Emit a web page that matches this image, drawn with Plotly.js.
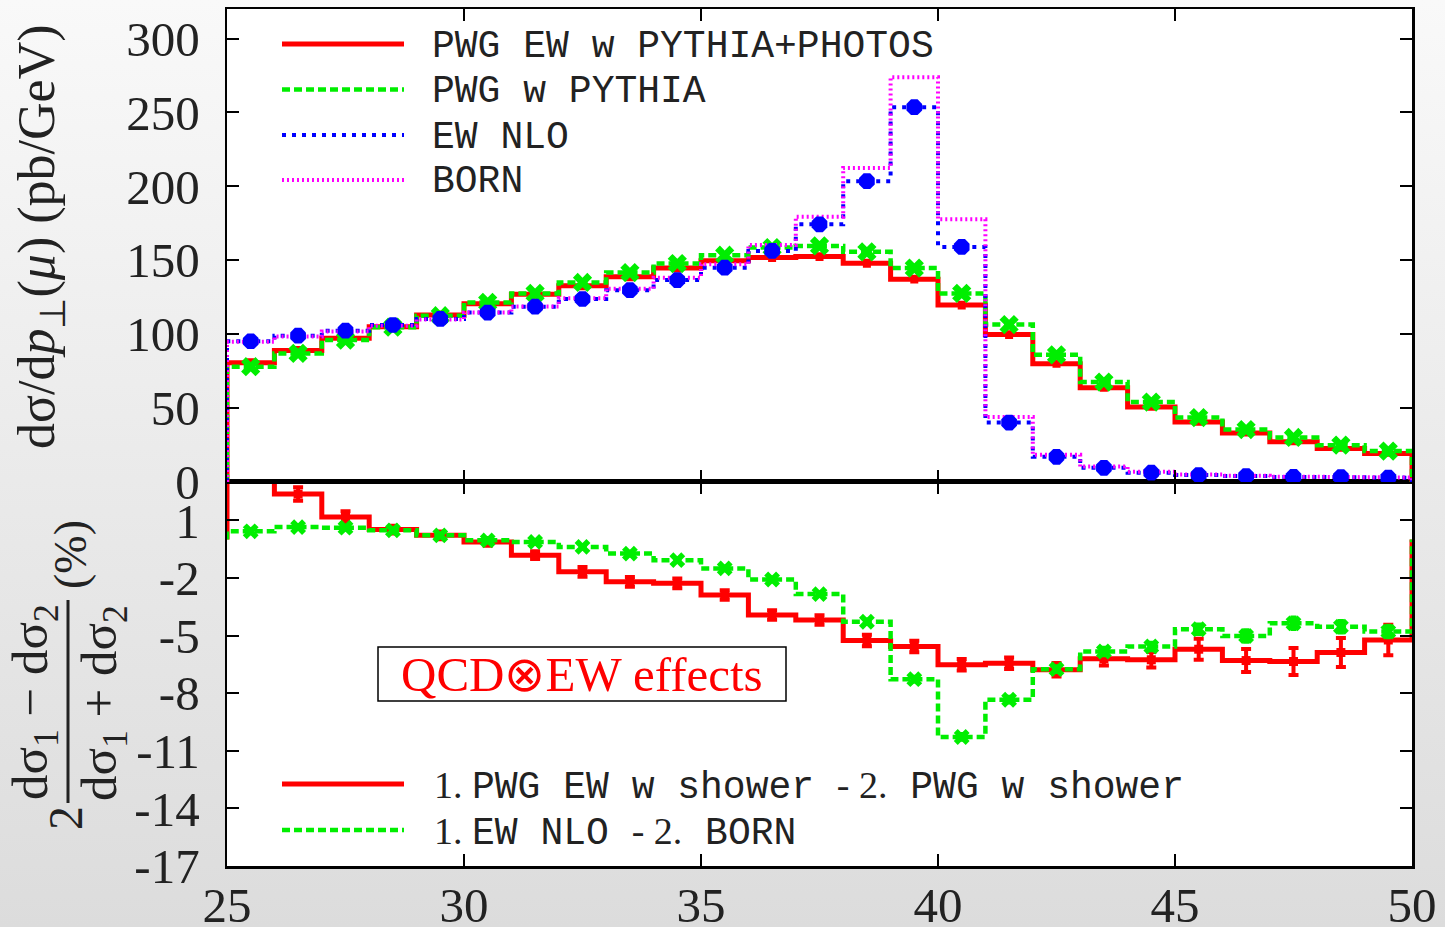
<!DOCTYPE html>
<html>
<head>
<meta charset="utf-8">
<script src="https://cdn.plot.ly/plotly-3.0.1.min.js"></script>
<style>
  html, body { margin: 0; padding: 0; }
  body { width: 1445px; height: 927px; background: linear-gradient(#f9f9f9, #dcdcdc); }
  #chart { width: 1445px; height: 927px; }
</style>
</head>
<body>
<div id="chart"></div>
<script>
// ---- data ----
const binEdges = [25, 26, 27, 28, 29, 30, 31, 32, 33, 34, 35, 36, 37, 38, 39, 40, 41, 42, 43, 44, 45, 46, 47, 48, 49, 50];

// top panel: dσ/dp⊥(μ) (pb/GeV)
const pwgEwPythiaPhotos = [80.7, 89, 97.3, 105, 113, 120.6, 127, 132.7, 138.8, 144.7, 149.6, 151.8, 152.5, 148, 137.2, 119.7, 99.7, 80, 63.8, 50.7, 40.6, 33.2, 27.2, 22.7, 19.3];
const pwgEwErr = [1.8, 1.8, 1.8, 1.8, 1.8, 1.8, 1.8, 1.8, 1.8, 1.8, 1.8, 1.8, 1.8, 1.8, 1.8, 1.8, 1.8, 1.6, 1.5, 1.4, 1.3, 1.2, 1.1, 1.0, 1.0];
const pwgPythia = [78, 87, 96, 104.7, 112.5, 121.5, 127.6, 135, 141.7, 147.8, 153.4, 158.6, 159.7, 155.7, 144.7, 127.6, 106.5, 86, 67.6, 54.1, 43.6, 35.5, 30.1, 24.9, 20.9];
const ewNlo = [95.2, 99, 102.4, 106.2, 110.3, 114.6, 118.6, 123.8, 129.8, 136.6, 145, 156.3, 174.3, 203.5, 253.6, 159, 40.2, 17, 9.6, 6.3, 4.7, 4, 3.4, 3.3, 2.9];
const born = [94.8, 98.4, 101.8, 105.7, 110, 114.6, 118.7, 124.3, 130.8, 138.1, 147.3, 160.4, 179.5, 212.5, 273.8, 177.7, 44, 18.5, 10.5, 7.0, 5.1, 4.2, 3.5, 3.4, 3.0];

// bottom panel: relative difference (%)
const ratioShower = [3.8, 2.37, 1.17, 0.52, 0.22, -0.12, -0.81, -1.68, -2.2, -2.28, -2.89, -3.93, -4.19, -5.26, -5.57, -6.52, -6.44, -6.78, -6.21, -6.26, -5.71, -6.3, -6.35, -5.88, -5.23];
const ratioShowerErr = [0.3, 0.35, 0.3, 0.2, 0.2, 0.2, 0.2, 0.25, 0.25, 0.25, 0.25, 0.25, 0.25, 0.3, 0.3, 0.3, 0.3, 0.35, 0.35, 0.4, 0.55, 0.6, 0.7, 0.75, 0.8];
const ratioFixed = [0.43, 0.65, 0.62, 0.48, 0.22, -0.04, -0.12, -0.38, -0.73, -1.07, -1.5, -2.08, -2.84, -4.28, -7.27, -10.28, -8.34, -6.75, -5.83, -5.57, -4.67, -5.02, -4.36, -4.54, -4.79];
const ratioFixedErr = [0.1, 0.1, 0.1, 0.1, 0.1, 0.1, 0.1, 0.1, 0.1, 0.1, 0.1, 0.1, 0.1, 0.12, 0.12, 0.15, 0.15, 0.15, 0.2, 0.2, 0.25, 0.3, 0.3, 0.3, 0.3];

const xTicks = [25, 30, 35, 40, 45, 50];
const topYTicks = [0, 50, 100, 150, 200, 250, 300];
const botYTicks = [-17, -14, -11, -8, -5, -2, 1];
const botYTickText = ['-17', '-14', '-11', '-8', '-5', '-2', '1'];

const topLegend = ['PWG EW w PYTHIA+PHOTOS', 'PWG w PYTHIA', 'EW NLO', 'BORN'];

// ---- helpers ----
function steps(vals) {
  const xs = [binEdges[0]], ys = [0];
  vals.forEach((v, i) => { xs.push(binEdges[i], binEdges[i + 1]); ys.push(v, v); });
  xs.push(binEdges[binEdges.length - 1]); ys.push(0);
  return { xs, ys };
}
const centres = binEdges.slice(0, -1).map((e, i) => (e + binEdges[i + 1]) / 2);

const RED = '#ff0000', GREEN = '#00ee00', BLUE = '#0000ff', MAG = '#ff00ff';
const styles = {
  red: { color: RED, width: 5, dash: 'solid' },
  green: { color: GREEN, width: 4.5, dash: '8px,4px' },
  blue: { color: BLUE, width: 4, dash: '4px,6px' },
  mag: { color: MAG, width: 4, dash: '2px,3px' }
};

function stepTrace(vals, st, xa, ya) {
  const s = steps(vals);
  return { x: s.xs, y: s.ys, xaxis: xa, yaxis: ya, mode: 'lines', line: st, showlegend: false, hoverinfo: 'skip' };
}
function ptTrace(vals, errs, color, symbol, size, xa, ya, thick, w) {
  return {
    x: centres, y: vals, xaxis: xa, yaxis: ya, mode: 'markers',
    marker: { symbol: symbol, size: size, color: color, line: { width: 0 } },
    error_y: { type: 'data', array: errs, visible: true, color: color, thickness: thick, width: w },
    showlegend: false, hoverinfo: 'skip'
  };
}

const traces = [
  // top panel
  stepTrace(pwgEwPythiaPhotos, styles.red, 'x2', 'y2'),
  ptTrace(pwgEwPythiaPhotos, pwgEwErr, RED, 'line-ew', 8, 'x2', 'y2', 3.5, 4),
  stepTrace(pwgPythia, styles.green, 'x2', 'y2'),
  ptTrace(pwgPythia, pwgEwErr.map(() => 0), GREEN, 'x', 17, 'x2', 'y2', 0, 0),
  stepTrace(ewNlo, styles.blue, 'x2', 'y2'),
  stepTrace(born, styles.mag, 'x2', 'y2'),
  ptTrace(ewNlo, ewNlo.map(() => 0), BLUE, 'octagon', 17, 'x2', 'y2', 0, 0),
  // bottom panel
  stepTrace(ratioShower, styles.red, 'x', 'y'),
  ptTrace(ratioShower, ratioShowerErr, RED, 'square', 9, 'x', 'y', 4, 5),
  stepTrace(ratioFixed, styles.green, 'x', 'y'),
  ptTrace(ratioFixed, ratioFixedErr, GREEN, 'x', 14, 'x', 'y', 4, 3)
];

// paper coordinate helpers (plot area: px 227..1412 by 9..866)
const L = 227, W = 1185, B = 866, H = 857;
const px = v => (v - L) / W;
const py = v => (B - v) / H;

const tickFont = { family: 'Liberation Serif, Times New Roman, serif', size: 49, color: '#222' };
const serif = 'Liberation Serif, Times New Roman, serif';
const mono = 'Liberation Mono, Courier New, monospace';

const axisCommon = {
  showline: true, linewidth: 2.5, linecolor: '#000', mirror: 'ticks',
  ticks: 'inside', ticklen: 12, tickwidth: 2, tickcolor: '#000',
  showgrid: false, zeroline: false, tickfont: tickFont
};

const shapes = [];
const annotations = [];

// top legend
const topStyles = [styles.red, styles.green, styles.blue, styles.mag];
const topRows = [44, 89.5, 135, 180];
topLegend.forEach((t, i) => {
  shapes.push({ type: 'line', xref: 'paper', yref: 'paper', x0: px(282), x1: px(404), y0: py(topRows[i]), y1: py(topRows[i]), line: topStyles[i] });
  annotations.push({ xref: 'paper', yref: 'paper', x: px(430), y: py(topRows[i] + 2), xanchor: 'left', yanchor: 'middle', showarrow: false, text: t, font: { family: mono, size: 38, color: '#222' } });
});

// bottom legend
const botRows = [784, 830];
const botStyles = [styles.red, styles.green];
const sp = s => '<span style="font-family:Liberation Serif">' + s + '</span>';
const botText = [
  sp('1.\u00a0') + 'PWG EW w shower ' + sp('-\u00a02.') + ' PWG w shower',
  sp('1.\u00a0') + 'EW NLO ' + sp('-\u00a02.') + ' BORN'
];
botRows.forEach((r, i) => {
  shapes.push({ type: 'line', xref: 'paper', yref: 'paper', x0: px(282), x1: px(404), y0: py(r), y1: py(r), line: botStyles[i] });
  annotations.push({ xref: 'paper', yref: 'paper', x: px(432), y: py(r + 2), xanchor: 'left', yanchor: 'middle', showarrow: false, text: botText[i], font: { family: mono, size: 38, color: '#222' } });
});

// QCD⊗EW box
shapes.push({ type: 'rect', xref: 'paper', yref: 'paper', x0: px(378), x1: px(786), y0: py(701), y1: py(647), fillcolor: '#fff', line: { color: '#000', width: 1.5 }, layer: 'above' });
annotations.push({ xref: 'paper', yref: 'paper', x: px(582), y: py(674), xanchor: 'center', yanchor: 'middle', showarrow: false, text: 'QCD⊗EW effects', font: { family: serif, size: 49, color: RED } });

// y titles
annotations.push({ xref: 'paper', yref: 'paper', x: px(40), y: py(237), textangle: -90, xanchor: 'center', yanchor: 'middle', showarrow: false,
  text: 'dσ/d<i>p</i><sub>⊥</sub>(<i>μ</i>) (pb/GeV)', font: { family: serif, size: 52, color: '#222' } });
annotations.push({ xref: 'paper', yref: 'paper', x: px(34), y: py(702), textangle: -90, xanchor: 'center', yanchor: 'middle', showarrow: false,
  text: 'dσ<sub>1</sub> − dσ<sub>2</sub>', font: { family: serif, size: 51, color: '#222' } });
annotations.push({ xref: 'paper', yref: 'paper', x: px(103), y: py(703), textangle: -90, xanchor: 'center', yanchor: 'middle', showarrow: false,
  text: 'dσ<sub>1</sub> + dσ<sub>2</sub>', font: { family: serif, size: 51, color: '#222' } });
annotations.push({ xref: 'paper', yref: 'paper', x: px(65), y: py(818), textangle: -90, xanchor: 'center', yanchor: 'middle', showarrow: false,
  text: '2', font: { family: serif, size: 48, color: '#222' } });
annotations.push({ xref: 'paper', yref: 'paper', x: px(70), y: py(555), textangle: -90, xanchor: 'center', yanchor: 'middle', showarrow: false,
  text: '(%)', font: { family: serif, size: 46, color: '#222' } });
shapes.push({ type: 'line', xref: 'paper', yref: 'paper', x0: px(68), x1: px(68), y0: py(803), y1: py(600), line: { color: '#222', width: 3 } });

const layout = {
  width: 1445, height: 927,
  margin: { l: L, r: 33, t: 9, b: 61 },
  paper_bgcolor: 'rgba(0,0,0,0)', plot_bgcolor: '#fff',
  showlegend: false,
  xaxis: Object.assign({}, axisCommon, { range: [25, 50], tickvals: xTicks, ticktext: xTicks.map(String), anchor: 'y', ticklabelstandoff: -5 }),
  yaxis: Object.assign({}, axisCommon, { domain: [0, 0.4481], range: [-17, 3], tickvals: botYTicks, ticktext: botYTickText, anchor: 'x', ticklabelstandoff: 15 }),
  xaxis2: Object.assign({}, axisCommon, { range: [25, 50], tickvals: xTicks, showticklabels: false, anchor: 'y2', matches: 'x' }),
  yaxis2: Object.assign({}, axisCommon, { domain: [0.4481, 1], range: [0, 320], tickvals: topYTicks, ticktext: topYTicks.map(String), anchor: 'x2', ticklabelstandoff: 15 }),
  shapes: shapes,
  annotations: annotations
};

Plotly.newPlot('chart', traces, layout, { displayModeBar: false, staticPlot: true });
</script>
</body>
</html>
